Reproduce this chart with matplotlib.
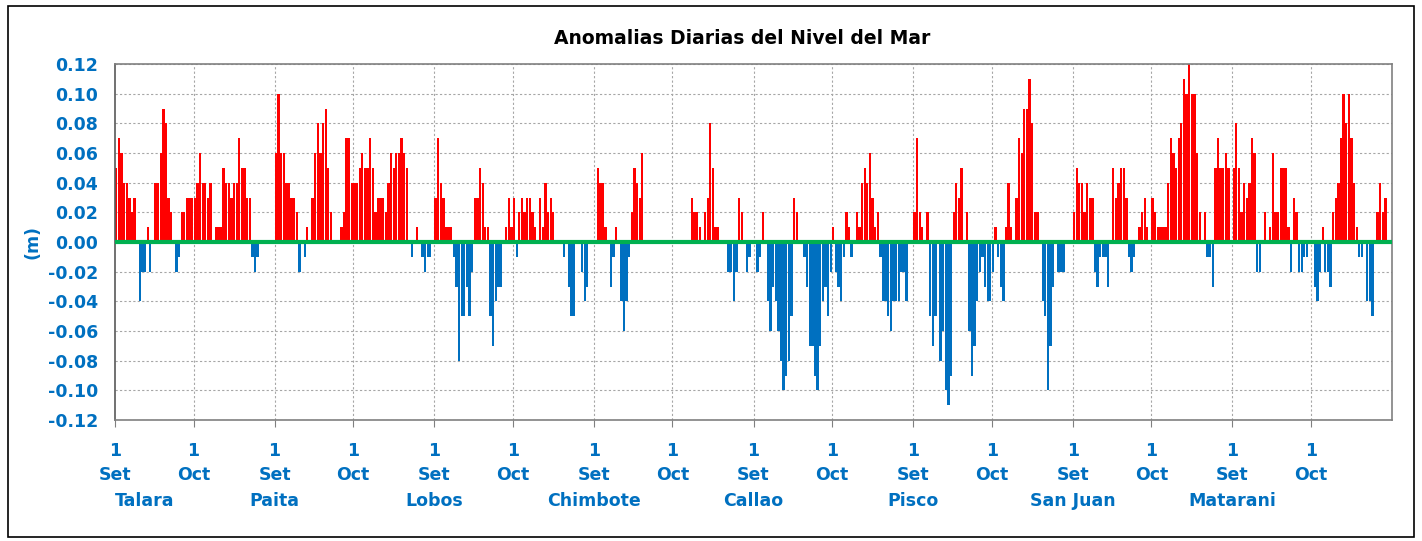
import numpy as np
import matplotlib.pyplot as plt
from matplotlib.patches import Rectangle
from matplotlib.ticker import FuncFormatter

plt.rcParams['axes.unicode_minus'] = False

nan = np.nan

stations = ['Talara', 'Paita', 'Lobos', 'Chimbote', 'Callao', 'Pisco', 'San Juan', 'Matarani']
months = ['Set', 'Oct']

# daily sea level anomalies (m), September then October for each station
talara_set = [0.05, 0.07, 0.06, 0.04, 0.04, 0.03, 0.02, 0.03, 0.00, -0.04,
              -0.02, -0.02, 0.01, -0.02, 0.00, 0.04, 0.04, 0.06, 0.09, 0.08,
              0.03, 0.02, 0.00, -0.02, -0.01, 0.02, 0.02, 0.03, 0.03, 0.03]
talara_oct = [0.03, 0.04, 0.06, 0.04, 0.04, 0.03, 0.04, 0.00, 0.01, 0.01,
              0.01, 0.05, 0.04, 0.04, 0.03, 0.04, 0.04, 0.07, 0.05, 0.05,
              0.03, 0.03, -0.01, -0.02, -0.01, 0.00, 0.00, 0.00, 0.00, 0.00, 0.00]

paita_set = [0.06, 0.10, 0.06, 0.06, 0.04, 0.04, 0.03, 0.03, 0.02, -0.02,
             0.00, -0.01, 0.01, 0.00, 0.03, 0.06, 0.08, 0.06, 0.08, 0.09,
             0.05, 0.02, 0.00, 0.00, 0.00, 0.01, 0.02, 0.07, 0.07, 0.04]
paita_oct = [0.04, 0.04, 0.05, 0.06, 0.05, 0.05, 0.07, 0.05, 0.02, 0.03,
             0.03, 0.03, 0.02, 0.04, 0.06, 0.05, 0.06, 0.06, 0.07, 0.06,
             0.05, 0.00, -0.01, 0.00, 0.01, 0.00, -0.01, -0.02, -0.01, -0.01, 0.00]

lobos_set = [0.03, 0.07, 0.04, 0.03, 0.01, 0.01, 0.01, -0.01, -0.03, -0.08,
             -0.05, -0.05, -0.03, -0.05, -0.02, 0.03, 0.03, 0.05, 0.04, 0.01,
             0.01, -0.05, -0.07, -0.04, -0.03, -0.03, 0.00, 0.01, 0.03, 0.01]
lobos_oct = [0.03, -0.01, 0.02, 0.03, 0.02, 0.03, 0.03, 0.02, 0.01, 0.00,
             0.03, 0.01, 0.04, 0.02, 0.03, 0.02, 0.00, 0.00, 0.00, -0.01,
             0.00, -0.03, -0.05, -0.05, 0.00, 0.00, -0.02, -0.04, -0.03, 0.00, 0.00]

chimbote_set = [0.00, 0.05, 0.04, 0.04, 0.01, 0.00, -0.03, -0.01, 0.01, 0.00,
                -0.04, -0.06, -0.04, -0.01, 0.02, 0.05, 0.04, 0.03, 0.06, nan,
                nan, nan, nan, nan, nan, nan, nan, nan, nan, nan]
chimbote_oct = [nan, nan, nan, nan, nan, nan, nan, 0.03, 0.02, 0.02,
                0.01, 0.00, 0.02, 0.03, 0.08, 0.05, 0.01, 0.01, 0.00, 0.00,
                0.00, -0.02, -0.02, -0.04, -0.02, 0.03, 0.02, 0.00, -0.02, -0.01, 0.00]

callao_set = [0.00, -0.02, -0.01, 0.02, 0.00, -0.04, -0.06, -0.03, -0.04, -0.06,
              -0.08, -0.10, -0.09, -0.08, -0.05, 0.03, 0.02, 0.00, 0.00, -0.01,
              -0.03, -0.07, -0.07, -0.09, -0.10, -0.07, -0.04, -0.03, -0.05, -0.02]
callao_oct = [0.01, -0.02, -0.03, -0.04, -0.01, 0.02, 0.01, -0.01, 0.00, 0.02,
              0.01, 0.04, 0.05, 0.04, 0.06, 0.03, 0.01, 0.02, -0.01, -0.04,
              -0.04, -0.05, -0.06, -0.04, -0.04, -0.04, -0.02, -0.02, -0.04, 0.00, 0.00]

pisco_set = [0.02, 0.07, 0.02, 0.01, 0.00, 0.02, -0.05, -0.07, -0.05, 0.00,
             -0.08, -0.06, -0.10, -0.11, -0.09, 0.02, 0.04, 0.03, 0.05, 0.00,
             0.02, -0.06, -0.09, -0.07, -0.04, -0.02, -0.01, -0.03, -0.04, -0.04]
pisco_oct = [-0.02, 0.01, -0.01, -0.03, -0.04, 0.01, 0.04, 0.01, 0.00, 0.03,
             0.07, 0.06, 0.09, 0.09, 0.11, 0.08, 0.02, 0.02, 0.00, -0.04,
             -0.05, -0.10, -0.07, -0.03, 0.00, -0.02, -0.02, -0.02, 0.00, 0.00, 0.00]

sanjuan_set = [0.02, 0.05, 0.04, 0.04, 0.02, 0.04, 0.03, 0.03, -0.02, -0.03,
               -0.01, -0.01, -0.01, -0.03, 0.00, 0.05, 0.03, 0.04, 0.05, 0.05,
               0.03, -0.01, -0.02, -0.01, 0.00, 0.01, 0.02, 0.03, 0.01, 0.00]
sanjuan_oct = [0.03, 0.02, 0.01, 0.01, 0.01, 0.01, 0.04, 0.07, 0.06, 0.05,
               0.07, 0.08, 0.11, 0.10, 0.12, 0.10, 0.10, 0.06, 0.02, 0.00,
               0.02, -0.01, -0.01, -0.03, 0.05, 0.07, 0.05, 0.05, 0.06, 0.05, 0.00]

matarani_set = [0.05, 0.08, 0.05, 0.02, 0.04, 0.03, 0.04, 0.07, 0.06, -0.02,
                -0.02, 0.00, 0.02, 0.00, 0.01, 0.06, 0.02, 0.02, 0.05, 0.05,
                0.05, 0.01, -0.02, 0.03, 0.02, -0.02, -0.02, -0.01, -0.01, 0.00]
matarani_oct = [0.00, -0.03, -0.04, -0.02, 0.01, -0.02, -0.02, -0.03, 0.02, 0.03,
                0.04, 0.07, 0.10, 0.08, 0.10, 0.07, 0.04, 0.01, -0.01, -0.01,
                0.00, -0.04, -0.04, -0.05, 0.00, 0.02, 0.04, 0.02, 0.03, 0.00, 0.00]

series = [talara_set, talara_oct, paita_set, paita_oct, lobos_set, lobos_oct,
          chimbote_set, chimbote_oct, callao_set, callao_oct, pisco_set, pisco_oct,
          sanjuan_set, sanjuan_oct, matarani_set, matarani_oct]

values = np.array([v for s in series for v in s], dtype=float)
x = np.arange(len(values)) + 0.5

# month boundaries along the day axis
lengths = [len(s) for s in series]
bounds = np.concatenate([[0], np.cumsum(lengths)])

blue_txt = '#0070C0'
red = '#FF0000'
blue = '#0070C0'
green = '#00B050'

fig = plt.figure(figsize=(14.22, 5.41), dpi=100)
ax = fig.add_axes([115 / 1422, 1 - 420 / 541, (1392 - 115) / 1422, (420 - 64) / 541])

ok = ~np.isnan(values)
pos = ok & (values >= 0)
neg = ok & (values < 0)
ax.bar(x[pos], values[pos], width=0.88, color=red, linewidth=0, zorder=2)
ax.bar(x[neg], values[neg], width=0.88, color=blue, linewidth=0, zorder=2)
ax.axhline(0, color=green, lw=3, zorder=3)

ax.set_xlim(0, bounds[-1])
ax.set_ylim(-0.12, 0.12)
ax.set_yticks(np.arange(-0.12, 0.121, 0.02))
ax.yaxis.set_major_formatter(FuncFormatter(lambda v, p: '%.2f' % v))

for b in bounds[1:-1]:
    ax.axvline(b, color='#A6A6A6', lw=0.8, ls=(0, (2, 2)), zorder=1)
ax.yaxis.grid(True, color='#A6A6A6', lw=0.8, ls=(0, (2, 2)), zorder=1)
ax.set_axisbelow(True)

ax.set_xticks(bounds[:-1])
ax.set_xticklabels([])
ax.tick_params(axis='x', length=5, color='#808080')
ax.tick_params(axis='y', length=0, pad=12, labelsize=12.5, labelcolor=blue_txt)
for lab in ax.get_yticklabels():
    lab.set_fontweight('bold')

for sp in ax.spines.values():
    sp.set_color('#808080')
    sp.set_linewidth(1.2)
ax.spines['left'].set_color('#595959')

# three-level category labels: day, month, station
trans = ax.get_xaxis_transform()
for k, b in enumerate(bounds[:-1]):
    ax.text(b, -0.062, '1', transform=trans, ha='center', va='top',
            color=blue_txt, fontsize=12.5, fontweight='bold')
    ax.text(b, -0.13, months[k % 2], transform=trans, ha='center', va='top',
            color=blue_txt, fontsize=12.5, fontweight='bold')
for k, name in enumerate(stations):
    b = bounds[2 * k]
    ax.text(b, -0.203, name, transform=trans, ha='left' if k == 0 else 'center',
            va='top', color=blue_txt, fontsize=12.5, fontweight='bold')

ax.set_ylabel('(m)', color=blue_txt, fontsize=12.5, fontweight='bold', labelpad=5)
fig.text(742 / 1422, 1 - 38 / 541, 'Anomalias Diarias del Nivel del Mar',
         ha='center', va='center', fontsize=13.5, fontweight='bold', color='#000000')

fig.patches.append(Rectangle((8 / 1422, 1 - 537 / 541), 1406 / 1422, 531 / 541,
                             transform=fig.transFigure, fill=False,
                             edgecolor='#000000', lw=1.2))

fig.savefig('out.png', dpi=100)
